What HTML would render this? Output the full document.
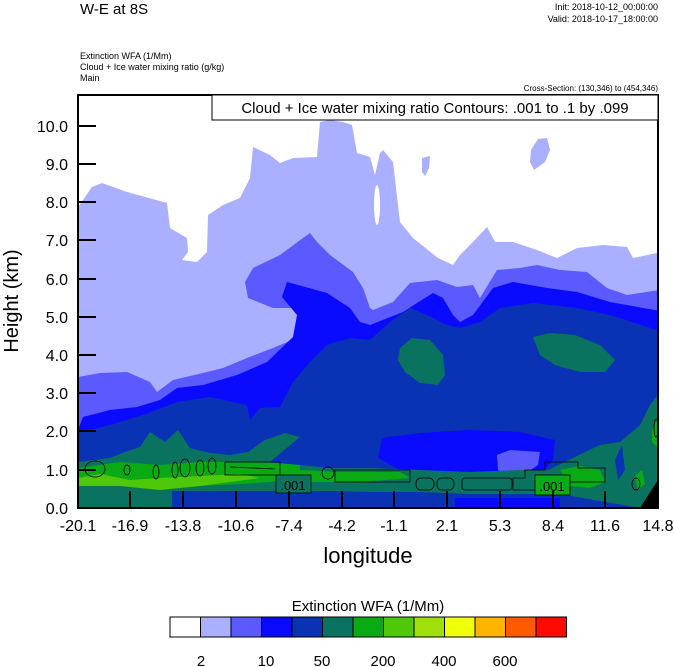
<!DOCTYPE html>
<html><head><meta charset="utf-8"><style>
html,body{margin:0;padding:0;background:#fff;}
svg{display:block;font-family:"Liberation Sans",Arial,sans-serif;}
</style></head><body>
<svg width="674" height="667" viewBox="0 0 674 667" xmlns="http://www.w3.org/2000/svg">
<defs><clipPath id="pc"><rect x="78" y="95" width="580" height="413"/></clipPath></defs>
<text x="80" y="14" font-size="15">W-E at 8S</text>
<text x="658" y="10" font-size="9" text-anchor="end">Init: 2018-10-12_00:00:00</text>
<text x="658" y="22" font-size="9" text-anchor="end">Valid: 2018-10-17_18:00:00</text>
<text x="80" y="59" font-size="9">Extinction WFA   (1/Mm)</text>
<text x="80" y="70" font-size="9">Cloud + Ice water mixing ratio    (g/kg)</text>
<text x="80" y="81" font-size="9">Main</text>
<text x="658" y="91" font-size="8" text-anchor="end">Cross-Section: (130,346) to (454,346)</text>
<g clip-path="url(#pc)">
<rect x="78" y="95" width="580" height="413" fill="#fff"/>
<polygon fill="#aab0ff" points="78,207 92,187 102,183 127,192 167,203 170,228 187,238 188,252 182,260 197,262 207,252 208,215 223,205 240,198 250,178 253,147 270,155 280,163 293,158 317,157 320,122 330,120 343,122 352,125 357,153 370,157 375,175 380,153 383,150 393,162 400,222 413,238 438,258 453,265 460,255 472,243 487,227 495,242 513,242 537,250 557,258 577,248 603,245 627,247 633,258 657,253 660,253 660,510 78,510"/>
<ellipse cx="377" cy="205" rx="3" ry="20" fill="#fff"/>
<polygon fill="#aab0ff" points="422,158 430,156 429,168 425,176 422,172"/>
<polygon fill="#aab0ff" points="531,150 538,139 547,138 550,150 545,162 534,170 530,162"/>
<polygon fill="#5a5aff" points="78,377 100,373 127,372 150,382 157,392 173,380 203,373 223,368 247,358 273,348 297,338 300,315 293,308 273,308 248,298 245,282 253,268 280,255 303,238 310,233 317,242 330,255 353,272 363,288 370,308 373,310 393,302 410,283 437,280 457,287 473,285 480,298 497,270 520,268 537,265 560,270 587,272 607,288 627,295 660,290 660,510 78,510"/>
<polygon fill="#0a0aff" points="78,430 83,417 110,410 137,407 160,400 177,388 203,385 237,375 267,362 293,337 297,315 282,297 287,282 327,293 350,308 360,322 370,325 403,312 417,303 433,293 443,298 453,315 460,322 473,315 493,288 513,282 547,288 577,292 610,302 660,311 660,510 78,510"/>
<polygon fill="#0a32b4" points="78,433 110,425 143,415 177,402 210,397 247,405 250,420 260,408 280,407 293,382 310,362 327,345 350,338 370,340 390,322 410,308 427,315 447,325 460,328 480,322 500,308 533,303 577,308 610,315 660,331 660,510 78,510"/>
<polygon fill="#0a0aff" points="382,438 420,433 470,430 520,432 555,440 553,460 540,476 500,482 460,480 420,478 400,470 378,458"/>
<polygon fill="#5a5aff" points="497,455 510,450 540,452 538,465 528,472 508,476 498,470"/>
<rect x="455" y="498" width="105" height="10" fill="#0a0aff"/>
<polygon fill="#0a7360" points="400,348 412,338 430,340 443,355 445,375 438,385 420,383 405,372 398,360"/>
<polygon fill="#0a7360" points="533,337 550,333 575,335 600,345 615,360 605,372 580,372 555,365 540,355"/>
<polygon fill="#0a7360" points="78,462 110,458 125,452 140,447 150,432 165,442 178,430 190,448 210,453 230,455 248,452 265,440 285,433 300,437 282,452 270,462 300,465 330,468 372,468 420,470 470,472 520,470 548,470 565,462 585,452 600,445 620,442 640,425 650,405 660,392 660,508 640,508 560,494 470,494 420,492 372,492 330,491 172,491 172,508 78,508"/>
<polygon fill="#0a32b4" points="615,460 622,445 625,470 618,480"/>
<polygon fill="#0aaa14" points="78,468 120,462 160,465 200,462 240,462 275,463 300,465 300,478 270,482 240,484 200,486 170,488 120,490 78,492"/>
<polygon fill="#50c80a" points="78,478 100,474 130,480 160,478 200,476 240,474 260,478 200,486 160,490 120,494 78,496"/>
<polygon fill="#0a7360" points="78,486 120,486 160,490 172,491 172,508 78,508"/>
<polygon fill="#0aaa14" points="300,470 340,472 400,472 410,478 360,482 300,482"/>
<polygon fill="#0aaa14" points="560,470 580,466 600,470 605,482 590,488 570,486"/>
<polygon fill="#0aaa14" points="635,476 642,470 645,484 638,490"/>
<polygon fill="#0aaa14" points="652,430 658,418 658,448 652,442"/>
<polygon fill="#000" points="640,508 658,480 658,508"/>
<g fill="none" stroke="#000" stroke-width="0.8">
<path d="M225,462 L280,462 L280,475 L225,475 Z"/>
<path d="M230,467 L275,469"/>
<ellipse cx="95" cy="469" rx="10" ry="8"/><ellipse cx="127" cy="470" rx="3" ry="5"/>
<ellipse cx="156" cy="472" rx="3" ry="7"/><ellipse cx="175" cy="470" rx="3" ry="8"/><ellipse cx="185" cy="468" rx="5" ry="9"/>
<ellipse cx="200" cy="468" rx="4" ry="8"/><ellipse cx="212" cy="466" rx="4" ry="8"/>
<ellipse cx="328" cy="473" rx="6" ry="6"/><path d="M335,470 L410,470 L410,482 L335,482 Z"/>
<rect x="416" y="478" width="18" height="12" rx="5"/><rect x="437" y="478" width="17" height="12" rx="5"/>
<rect x="462" y="478" width="50" height="12" rx="3"/>
<path d="M513,478 L525,478 L525,470 L545,470 L545,462 L578,462 L578,468 L605,468 L605,482 L545,482 L545,490 L513,490 Z"/>
<ellipse cx="636" cy="484" rx="4" ry="6"/><ellipse cx="656" cy="428" rx="2" ry="9"/>
</g>
<rect x="276" y="475" width="35" height="18" fill="#0a7360" stroke="#000" stroke-width="0.8"/>
<text x="293" y="490" font-size="13" text-anchor="middle">.001</text>
<rect x="535" y="475" width="35" height="20" fill="#0aaa14" stroke="#000" stroke-width="0.8"/>
<text x="552" y="491" font-size="13" text-anchor="middle">.001</text>
</g>
<rect x="78" y="95" width="580" height="413" fill="none" stroke="#000" stroke-width="2"/>
<rect x="212" y="95" width="446" height="25" fill="#fff" stroke="#000" stroke-width="1"/>
<text x="435" y="113" font-size="15" text-anchor="middle">Cloud + Ice water mixing ratio Contours: .001 to .1 by .099</text>
<g stroke="#000" stroke-width="2">
<line x1="78" y1="126" x2="96" y2="126"/><line x1="78" y1="164" x2="96" y2="164"/><line x1="78" y1="202" x2="96" y2="202"/>
<line x1="78" y1="240" x2="96" y2="240"/><line x1="78" y1="279" x2="96" y2="279"/><line x1="78" y1="317" x2="96" y2="317"/>
<line x1="78" y1="355" x2="96" y2="355"/><line x1="78" y1="393" x2="96" y2="393"/><line x1="78" y1="431" x2="96" y2="431"/>
<line x1="78" y1="470" x2="96" y2="470"/>
<line x1="130" y1="508" x2="130" y2="491"/><line x1="183" y1="508" x2="183" y2="491"/><line x1="236" y1="508" x2="236" y2="491"/>
<line x1="289" y1="508" x2="289" y2="491"/><line x1="342" y1="508" x2="342" y2="491"/><line x1="394" y1="508" x2="394" y2="491"/>
<line x1="447" y1="508" x2="447" y2="491"/><line x1="500" y1="508" x2="500" y2="491"/><line x1="553" y1="508" x2="553" y2="491"/>
<line x1="605" y1="508" x2="605" y2="491"/>
</g>
<g font-size="16" text-anchor="end">
<text x="68" y="132">10.0</text><text x="68" y="170">9.0</text><text x="68" y="208">8.0</text><text x="68" y="246">7.0</text>
<text x="68" y="285">6.0</text><text x="68" y="323">5.0</text><text x="68" y="361">4.0</text><text x="68" y="399">3.0</text>
<text x="68" y="437">2.0</text><text x="68" y="476">1.0</text><text x="68" y="514">0.0</text>
</g>
<g font-size="16" text-anchor="middle">
<text x="78" y="531">-20.1</text><text x="130" y="531">-16.9</text><text x="183" y="531">-13.8</text><text x="236" y="531">-10.6</text>
<text x="289" y="531">-7.4</text><text x="342" y="531">-4.2</text><text x="394" y="531">-1.1</text><text x="447" y="531">2.1</text>
<text x="500" y="531">5.3</text><text x="553" y="531">8.4</text><text x="605" y="531">11.6</text><text x="658" y="531">14.8</text>
</g>
<text x="368" y="563" font-size="22" text-anchor="middle">longitude</text>
<text transform="translate(18,301) rotate(-90)" font-size="20" text-anchor="middle">Height (km)</text>
<text x="368" y="611" font-size="15" text-anchor="middle">Extinction WFA  (1/Mm)</text>
<g stroke="#000" stroke-width="1">
<rect x="170" y="617" width="30.5" height="20" fill="#fff"/>
<rect x="200.5" y="617" width="30.5" height="20" fill="#aab0ff"/>
<rect x="231" y="617" width="30.5" height="20" fill="#5a5aff"/>
<rect x="261.5" y="617" width="30.5" height="20" fill="#0a0aff"/>
<rect x="292" y="617" width="30.5" height="20" fill="#0a32b4"/>
<rect x="322.5" y="617" width="30.5" height="20" fill="#0a7360"/>
<rect x="353" y="617" width="30.5" height="20" fill="#0aaa14"/>
<rect x="383.5" y="617" width="30.5" height="20" fill="#50c80a"/>
<rect x="414" y="617" width="30.5" height="20" fill="#a0e00a"/>
<rect x="444.5" y="617" width="30.5" height="20" fill="#f0ff0a"/>
<rect x="475" y="617" width="30.5" height="20" fill="#ffb400"/>
<rect x="505.5" y="617" width="30.5" height="20" fill="#ff5a00"/>
<rect x="536" y="617" width="30.5" height="20" fill="#ff0a00"/>
</g>
<g font-size="15" text-anchor="middle">
<text x="201" y="666">2</text><text x="266" y="666">10</text><text x="322" y="666">50</text>
<text x="383" y="666">200</text><text x="444" y="666">400</text><text x="505" y="666">600</text>
</g>
</svg>
</body></html>
